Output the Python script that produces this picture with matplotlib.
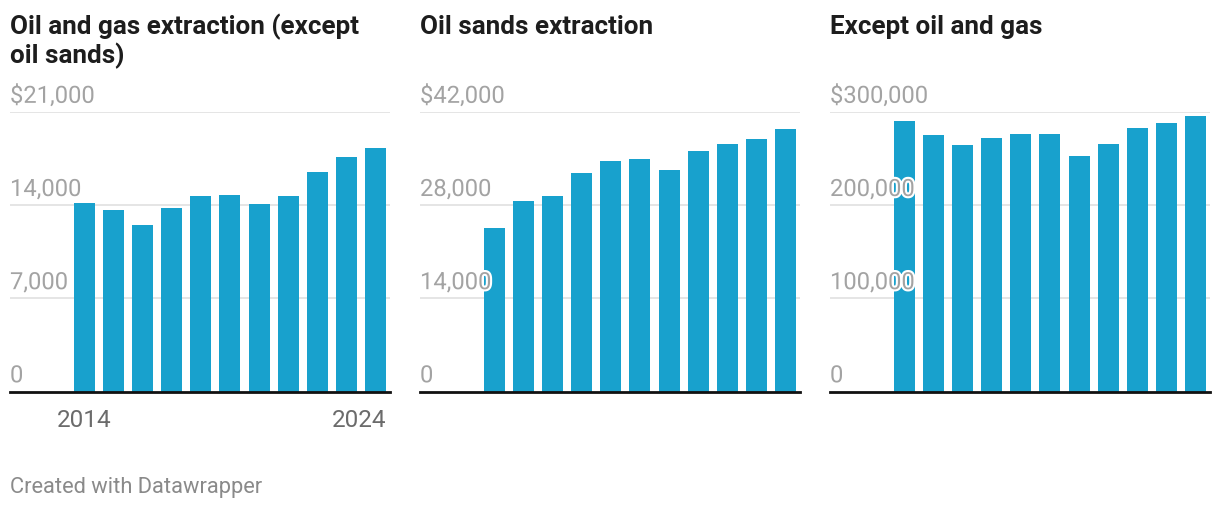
import matplotlib.pyplot as plt
import matplotlib.patheffects as pe

# Data
years = list(range(2014, 2025))
titles = [['Oil and gas extraction (except', 'oil sands)'], ['Oil sands extraction'], ['Except oil and gas']]
oil_gas = [14200, 13650, 12500, 13800, 14700, 14750, 14100, 14700, 16500, 17600, 18300]
oil_sands = [24600, 28600, 29400, 32800, 34600, 34900, 33300, 36100, 37200, 37900, 39400]
except_oil_gas = [290300, 275300, 264600, 272100, 276400, 276400, 252800, 265700, 282800, 288200, 295700]
series = [oil_gas, oil_sands, except_oil_gas]
yticks = [[0, 7000, 14000, 21000], [0, 14000, 28000, 42000], [0, 100000, 200000, 300000]]

plt.rcParams['font.family'] = ['Roboto', 'DejaVu Sans']

W, H = 1220, 508
fig = plt.figure(figsize=(W / 100, H / 100), dpi=100)

bar_color = '#18a1cd'
grid_color = '#e3e3e3'
tick_color = '#a3a3a3'

def px_to_fig(x, y_top):
    return x / W, 1 - y_top / H

for k in range(3):
    x0 = 10 + 410 * k
    ax = fig.add_axes([x0 / W, (H - 391.5) / H, 380 / W, (391.5 - 112) / H])
    vals = series[k]
    ticks = yticks[k]
    ax.set_xlim(-2.56, 10.5)
    ax.set_ylim(0, ticks[-1])
    for s in ax.spines.values():
        s.set_visible(False)
    ax.set_xticks([])
    ax.set_yticks([])
    for t in ticks[1:]:
        ax.axhline(t, color=grid_color, lw=1.3, zorder=0)
    ax.bar(range(len(vals)), vals, width=0.72, color=bar_color, zorder=2)
    ax.axhline(0, color='#111111', lw=2, zorder=3, clip_on=False)

    for i, t in enumerate(ticks):
        label = f'{t:,}'
        if i == len(ticks) - 1:
            label = '$' + label
        ax.annotate(label, xy=(0, t), xycoords=('axes fraction', 'data'),
                    xytext=(0, 6.6), textcoords='offset points',
                    ha='left', va='baseline', fontsize=17.1, color=tick_color, zorder=4,
                    path_effects=[pe.withStroke(linewidth=3, foreground='white')])

    if k == 0:
        ax.annotate(str(years[0]), xy=(0, 0), xycoords=('data', 'axes fraction'),
                    xytext=(0, -12.6), textcoords='offset points',
                    ha='center', va='top', fontsize=17.5, color='#6b6b6b')
        ax.annotate(str(years[-1]), xy=(10.36, 0), xycoords=('data', 'axes fraction'),
                    xytext=(0, -12.6), textcoords='offset points',
                    ha='right', va='top', fontsize=17.5, color='#6b6b6b')

    for j, line in enumerate(titles[k]):
        tx, ty = px_to_fig(x0, 34 + 29 * j)
        fig.text(tx, ty, line, ha='left', va='baseline', fontsize=18.7,
                 fontweight='bold', color='#1d1d1d')

fx, fy = px_to_fig(10, 492.5)
fig.text(fx, fy, 'Created with Datawrapper', ha='left', va='baseline',
         fontsize=15.75, color='#8a8a8a')

fig.savefig('out.png', dpi=100, facecolor='white')
